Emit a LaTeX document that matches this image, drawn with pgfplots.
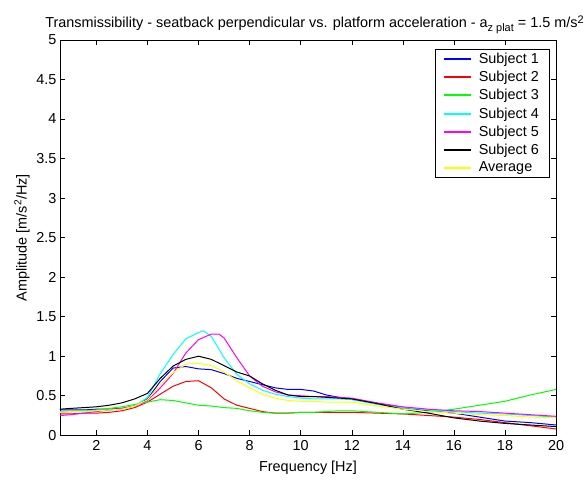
\documentclass[border=0pt]{standalone}
\usepackage{pgfplots}
\pgfplotsset{compat=1.18}
\usepackage{fontspec}
\setmainfont{Liberation Sans}
\definecolor{mblue}{RGB}{0,0,255}
\definecolor{mred}{RGB}{255,0,0}
\definecolor{mgreen}{RGB}{0,255,0}
\definecolor{mcyan}{RGB}{0,255,255}
\definecolor{mmagenta}{RGB}{255,0,255}
\definecolor{myellow}{RGB}{255,255,0}
\begin{document}
\begin{tikzpicture}
\begin{axis}[
  name=ax,
  scale only axis,
  width=497bp, height=396bp,
  xmin=0.57, xmax=20, ymin=0, ymax=5,
  xtick={2,4,...,20},
  ytick={0,0.5,...,5},
  yticklabel style={/pgf/number format/fixed,/pgf/number format/precision=1},
  xticklabel style={yshift=-2bp},
  /pgf/number format/assume math mode=true,
  tick align=inside,
  major tick length=5bp,
  tick style={black, line width=0.5pt},
  axis line style={black, line width=0.6pt},
  tick label style={font=\fontsize{14.5}{16}\selectfont},
  label style={font=\fontsize{14.5}{16}\selectfont},
  xlabel={Frequency [Hz]},
  ylabel={Amplitude [m/s\textsuperscript{2}/Hz]},
  xlabel style={yshift=-3bp},
  ylabel style={yshift=0bp},
  title={Transmissibility - seatback perpendicular vs. platform acceleration - a\raisebox{-0.45ex}{\fontsize{11}{12}\selectfont z plat} = 1.5 m/s\raisebox{0.6ex}{\fontsize{11}{12}\selectfont 2}},
  title style={font=\fontsize{14.5}{16}\selectfont, yshift=-3bp, xshift=6.5bp},
  legend cell align=left,
  legend style={at={(0.986,0.977)}, anchor=north east,
    font=\fontsize{14.5}{16}\selectfont, row sep=2.2bp, inner xsep=8bp, inner ysep=2bp,
    /tikz/every odd column/.append style={column sep=5bp}},
  legend image code/.code={\draw[#1, line width=2pt] (0bp,0bp) -- (27bp,0bp);},
  every axis plot/.append style={line width=1pt},
]
\addplot[color=mblue] coordinates {(0.57,0.32)(1,0.32)(1.5,0.32)(2,0.33)(2.5,0.33)(3,0.34)(3.5,0.37)(4,0.46)(4.5,0.68)(5,0.85)(5.5,0.87)(6,0.84)(6.5,0.83)(7,0.78)(7.5,0.72)(8,0.68)(8.5,0.64)(9,0.60)(9.5,0.58)(10,0.58)(10.5,0.56)(11,0.51)(11.5,0.48)(12,0.46)(13,0.40)(14,0.35)(15,0.31)(16,0.28)(17,0.23)(18,0.18)(19,0.16)(20,0.13)};
\addlegendentry{Subject 1}
\addplot[color=mred] coordinates {(0.57,0.27)(1,0.27)(1.5,0.28)(2,0.28)(2.5,0.29)(3,0.31)(3.5,0.35)(4,0.42)(4.5,0.52)(5,0.62)(5.5,0.68)(6,0.69)(6.5,0.60)(7,0.46)(7.5,0.38)(8,0.34)(8.5,0.30)(9,0.28)(9.5,0.28)(10,0.29)(10.5,0.29)(11,0.29)(11.5,0.29)(12,0.29)(13,0.28)(14,0.27)(15,0.25)(16,0.23)(17,0.20)(18,0.16)(19,0.12)(20,0.08)};
\addlegendentry{Subject 2}
\addplot[color=mgreen] coordinates {(0.57,0.29)(1,0.30)(1.5,0.31)(2,0.32)(2.5,0.34)(3,0.36)(3.5,0.39)(4,0.42)(4.5,0.45)(5,0.44)(5.5,0.41)(6,0.38)(6.5,0.37)(7,0.35)(7.5,0.34)(8,0.31)(8.5,0.29)(9,0.28)(9.5,0.28)(10,0.29)(10.5,0.29)(11,0.30)(11.5,0.31)(12,0.31)(13,0.29)(14,0.27)(15,0.29)(16,0.33)(17,0.38)(18,0.43)(19,0.51)(20,0.58)};
\addlegendentry{Subject 3}
\addplot[color=mcyan] coordinates {(0.57,0.30)(1,0.30)(1.5,0.31)(2,0.31)(2.5,0.32)(3,0.33)(3.5,0.37)(4,0.48)(4.5,0.78)(5,1.02)(5.5,1.22)(6,1.30)(6.2,1.32)(6.5,1.25)(7,0.98)(7.5,0.77)(8,0.65)(8.5,0.57)(9,0.52)(9.5,0.49)(10,0.47)(10.5,0.46)(11,0.46)(11.5,0.46)(12,0.45)(13,0.39)(14,0.35)(15,0.32)(16,0.30)(17,0.28)(18,0.27)(19,0.25)(20,0.23)};
\addlegendentry{Subject 4}
\addplot[color=mmagenta] coordinates {(0.57,0.25)(1,0.26)(1.5,0.28)(2,0.30)(2.5,0.32)(3,0.34)(3.5,0.37)(4,0.44)(4.5,0.60)(5,0.78)(5.5,1.04)(6,1.21)(6.5,1.28)(6.8,1.28)(7,1.23)(7.5,0.98)(8,0.75)(8.5,0.62)(9,0.55)(9.5,0.51)(10,0.50)(10.5,0.49)(11,0.49)(11.5,0.48)(12,0.47)(13,0.41)(14,0.36)(15,0.33)(16,0.31)(17,0.30)(18,0.28)(19,0.26)(20,0.24)};
\addlegendentry{Subject 5}
\addplot[color=black] coordinates {(0.57,0.33)(1,0.34)(1.5,0.35)(2,0.36)(2.5,0.38)(3,0.41)(3.5,0.46)(4,0.53)(4.5,0.72)(5,0.875)(5.5,0.96)(6,1.00)(6.5,0.96)(7,0.88)(7.5,0.80)(8,0.75)(8.5,0.65)(9,0.57)(9.5,0.51)(10,0.49)(10.5,0.49)(11,0.48)(11.5,0.47)(12,0.46)(13,0.40)(14,0.33)(15,0.28)(16,0.22)(17,0.18)(18,0.15)(19,0.13)(20,0.11)};
\addlegendentry{Subject 6}
\addplot[color=myellow] coordinates {(0.57,0.29)(1,0.30)(1.5,0.30)(2,0.31)(2.5,0.32)(3,0.33)(3.5,0.37)(4,0.45)(4.5,0.64)(5,0.79)(5.5,0.90)(6,0.91)(6.5,0.88)(7,0.80)(7.5,0.69)(8,0.60)(8.5,0.52)(9,0.47)(9.5,0.44)(10,0.43)(10.5,0.43)(11,0.42)(11.5,0.42)(12,0.42)(13,0.37)(14,0.33)(15,0.30)(16,0.28)(17,0.26)(18,0.25)(19,0.23)(20,0.22)};
\addlegendentry{Average}
\end{axis}
\path (ax.south west) ++(-60bp,-46bp) coordinate (bbA);
\path (ax.north east) ++(30bp,40bp) coordinate (bbB);
\path (bbA) rectangle (bbB);
\end{tikzpicture}
\end{document}
